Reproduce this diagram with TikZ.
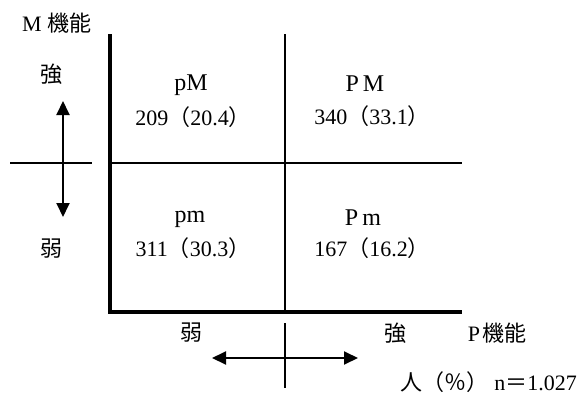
\documentclass[tikz,border=0pt]{standalone}
\usepackage{fontspec}
\setmainfont{Liberation Serif}
\newfontfamily\jp{Noto Sans CJK JP}
\usetikzlibrary{arrows.meta}
\begin{document}
\begin{tikzpicture}[x=1pt,y=-1pt,
  txt/.style={font=\fontsize{22}{24}\selectfont, inner sep=0pt},
  bigtxt/.style={font=\fontsize{24}{26}\selectfont, inner sep=0pt},
  axisline/.style={line width=3.2pt, line join=miter},
  thinline/.style={line width=1.9pt},
  dblarrow/.style={line width=1.9pt, {Triangle[length=14pt,width=13pt]}-{Triangle[length=14pt,width=13pt]}}]
\useasboundingbox (0,0) rectangle (579,394);
% axes
\coordinate (O) at (110,312);
\coordinate (Ytop) at (110,34);
\coordinate (Xend) at (462,312);
\coordinate (Vtop) at (285,34);
\coordinate (Vbot) at (285,312);
\coordinate (Hl) at (110,163);
\coordinate (Hr) at (462,163);
\draw[axisline] (Ytop) -- (O) -- (Xend);
\draw[thinline] (Vtop) -- (Vbot);
\draw[thinline] (Hl) -- (Hr);
% left cross
\coordinate (LcL) at (10,163);
\coordinate (LcR) at (92,163);
\coordinate (LaT) at (63,101);
\coordinate (LaB) at (63,217);
\draw[thinline] (LcL) -- (LcR);
\draw[dblarrow] (LaT) -- (LaB);
% bottom cross
\coordinate (BcT) at (285,323);
\coordinate (BcB) at (285,388);
\coordinate (BaL) at (212,358);
\coordinate (BaR) at (358,358);
\draw[thinline] (BcT) -- (BcB);
\draw[dblarrow] (BaL) -- (BaR);
% labels
\node[txt] (mf) at (57,23) {M\hspace{6pt}{\jp 機能}};
\node[txt] (mstrong) at (51,74) {\jp 強};
\node[txt] (mweak) at (51,249) {\jp 弱};
\node[txt] (pweak) at (191,333) {\jp 弱};
\node[txt] (pstrong) at (395,333) {\jp 強};
\node[txt] (pf) at (497,333) {P\hspace{2pt}{\jp 機能}};
% quadrants
\node[bigtxt] (pMl) at (191,85) {pM};
\node[txt] (pMn) at (193,117) {209{\jp （}20.4{\jp ）}};
\node[bigtxt] (PMl) at (365,84) {P\hspace{4pt}M};
\node[txt] (PMn) at (372,116) {340{\jp （}33.1{\jp ）}};
\node[bigtxt] (pml) at (190,219) {pm};
\node[txt] (pmn) at (193,248) {311{\jp （}30.3{\jp ）}};
\node[bigtxt] (Pml) at (363,218) {P\hspace{4pt}m};
\node[txt] (Pmn) at (372,248) {167{\jp （}16.2{\jp ）}};
\node[txt, anchor=east] (note) at (577,382) {{\jp 人（％）}\hspace{6pt}n{\jp ＝}1.027};
\end{tikzpicture}
\end{document}
